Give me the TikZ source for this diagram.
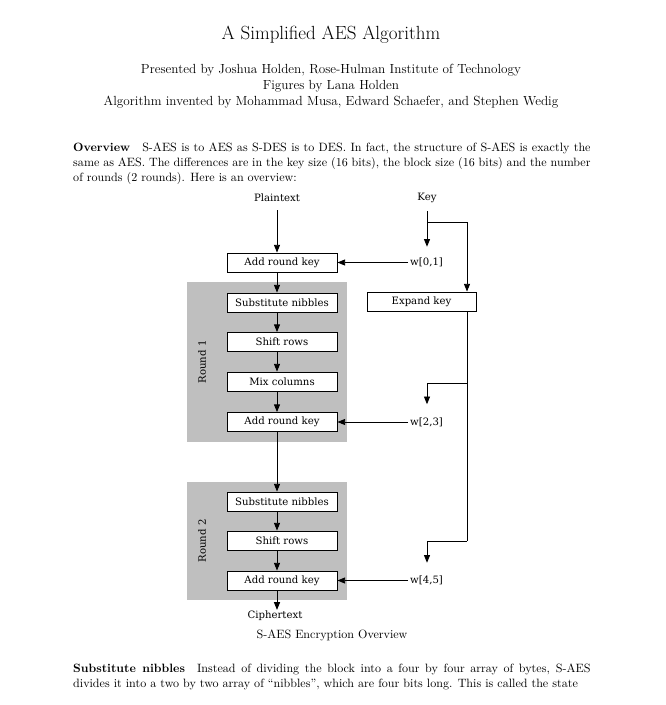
\documentclass[tikz,border=0pt]{standalone}
\usepackage{fontspec}
\newfontfamily\diagfont{DejaVu Serif}
\usetikzlibrary{arrows.meta}
\newcommand{\pxu}{0.908pt}

\begin{document}
\begin{tikzpicture}[x=\pxu, y=-\pxu, >={Triangle[length=7pt,width=5.5pt]},
        stepbox/.style={draw, line width=0.8pt, fill=white, minimum width=110*\pxu,
            minimum height=19*\pxu, inner sep=0pt, font=\diagfont\fontsize{9.2}{10}\selectfont},
        lbl/.style={inner sep=0pt, font=\diagfont\fontsize{9.2}{10}\selectfont},
        roundbg/.style={fill=roundGray, minimum width=160*\pxu, inner sep=0pt},
        link/.style={->, line width=0.8pt},
        wire/.style={line width=0.8pt},
        body/.style={anchor=north west, inner sep=0pt, text width=6.5in, align=justify,
            font=\fontsize{10.95}{13.6}\selectfont}]
        % --- CONFIGURATION ---
        \definecolor{roundGray}{RGB}{191, 191, 191}   % fond des tours

        % Page
        \fill[white] (0,0) rectangle (666,705);
        \useasboundingbox (0,0) rectangle (666,705);

        % --- EN-TETE ---
        \node[font=\fontsize{17.28}{21}\selectfont] (title) at (331,35) {A Simplified AES Algorithm};
        \node[align=center, font=\fontsize{12}{14.5}\selectfont] (authors) at (331,86) {
            Presented by Joshua Holden, Rose-Hulman Institute of Technology\\
            Figures by Lana Holden\\
            Algorithm invented by Mohammad Musa, Edward Schaefer, and Stephen Wedig
        };
        \node[body] (overview) at (73,143) {\textbf{Overview}\quad S-AES is to AES as S-DES is to DES.
            In fact, the structure of S-AES is exactly the same as AES. The differences are in the key
            size (16 bits), the block size (16 bits) and the number of rounds (2 rounds). Here is an overview:};

        % --- FONDS DES TOURS ---
        \node[roundbg, minimum height=160*\pxu] (round1) at (267,362) {};
        \node[roundbg, minimum height=118*\pxu] (round2) at (267,541) {};
        \node[lbl, rotate=90] (round1lbl) at (202,362) {Round 1};
        \node[lbl, rotate=90] (round2lbl) at (202,541) {Round 2};

        % --- CHEMIN DES DONNEES ---
        \coordinate (spine) at (277,0);
        \node[lbl] (plain) at (277,198) {Plaintext};
        \node[stepbox] (ark0) at (282,262.5) {Add round key};
        \node[stepbox] (sub1) at (282,302.5) {Substitute nibbles};
        \node[stepbox] (shift1) at (282,342) {Shift rows};
        \node[stepbox] (mix1) at (282,381.5) {Mix columns};
        \node[stepbox] (ark1) at (282,422) {Add round key};
        \node[stepbox] (sub2) at (282,501.5) {Substitute nibbles};
        \node[stepbox] (shift2) at (282,540.5) {Shift rows};
        \node[stepbox] (ark2) at (282,580.5) {Add round key};
        \node[lbl] (cipher) at (275,616) {Ciphertext};

        \draw[link, shorten <=8*\pxu] (plain.south -| spine) -- (ark0.north -| spine);
        \foreach \a/\b in {ark0/sub1, sub1/shift1, shift1/mix1, mix1/ark1,
                ark1/sub2, sub2/shift2, shift2/ark2}
            \draw[link] (\a.south -| spine) -- (\b.north -| spine);
        \draw[link, shorten >=1*\pxu] (ark2.south -| spine) -- (cipher.north -| spine);

        % --- CLES ---
        \node[lbl] (key) at (427,198) {Key};
        \node[stepbox, minimum width=109*\pxu] (expand) at (421.5,301.5) {Expand key};
        \node[lbl, anchor=west] (w01) at (410,262.5) {w[0,1]};
        \node[lbl, anchor=west] (w23) at (410,422) {w[2,3]};
        \node[lbl, anchor=west] (w45) at (410,580.5) {w[4,5]};

        \coordinate (ksplit) at (427,222);
        \coordinate (kbus) at (467,222);
        \coordinate (b23) at (467,383);
        \coordinate (d23) at (427,383);
        \coordinate (b45) at (467,541);
        \coordinate (d45) at (427,541);

        \draw[link, shorten <=8*\pxu, shorten >=11*\pxu] (key.south) -- (ksplit |- w01.north);
        \draw[wire] (ksplit) -- (kbus);
        \draw[link] (kbus) -- (kbus |- expand.north);
        \draw[wire] (kbus |- expand.south) -- (b45);
        \draw[wire] (b23) -- (d23);
        \draw[link, shorten >=13*\pxu] (d23) -- (d23 |- w23.north);
        \draw[wire] (b45) -- (d45);
        \draw[link, shorten >=13*\pxu] (d45) -- (d45 |- w45.north);

        \draw[link, shorten <=2*\pxu] (w01.west) -- (ark0.east);
        \draw[link, shorten <=2*\pxu] (w23.west) -- (ark1.east);
        \draw[link, shorten <=2*\pxu] (w45.west) -- (ark2.east);

        % --- LEGENDE ET SUITE DU TEXTE ---
        \node[font=\fontsize{10.95}{13.6}\selectfont] (caption) at (332,635) {S-AES Encryption Overview};
        \node[body] (subnib) at (73,664) {\parfillskip=0pt \textbf{Substitute nibbles}\quad Instead of
            dividing the block into a four by four array of bytes, S-AES divides it into a two by two
            array of ``nibbles'', which are four bits long. This is called the state};
    \end{tikzpicture}
\end{document}
